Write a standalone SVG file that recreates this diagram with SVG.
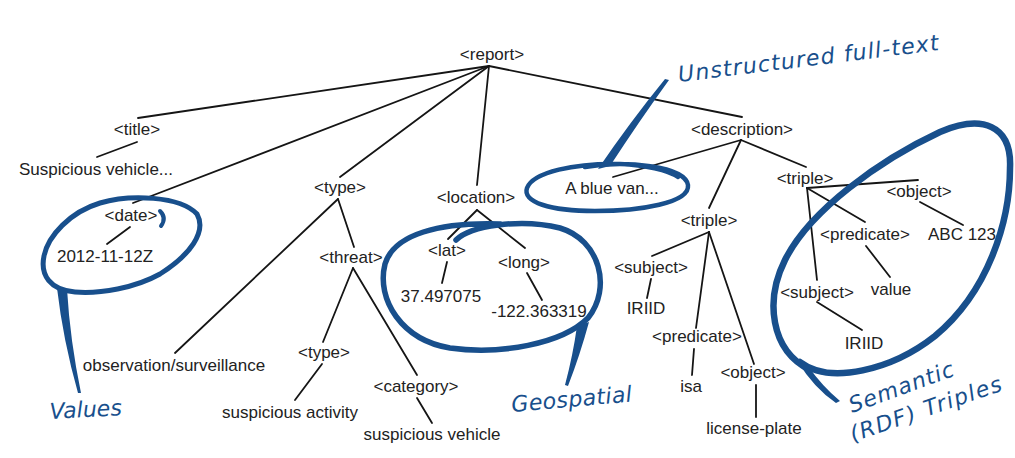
<svg xmlns="http://www.w3.org/2000/svg" width="1015" height="458" viewBox="0 0 1015 458">
<style>
.t{font-family:"Liberation Sans",Arial,sans-serif;font-size:17px;fill:#222;text-anchor:middle}
.c line{stroke:#151515;stroke-width:1.8;stroke-linecap:round}
.b{fill:none;stroke:#184f8c;stroke-linecap:round;stroke-linejoin:round}
.bf{fill:#184f8c}
.h{font-family:"DejaVu Sans",sans-serif;font-style:italic;fill:#184f8c;font-size:22px}
</style>
<rect width="1015" height="458" fill="#fff"/>
<g id="connectors" class="c">
<line x1="489" y1="66" x2="138" y2="118"/>
<line x1="489" y1="66" x2="133" y2="203"/>
<line x1="489" y1="66" x2="340" y2="177"/>
<line x1="489" y1="66" x2="477" y2="185"/>
<line x1="489" y1="66" x2="742" y2="117"/>
<line x1="137" y1="142" x2="97" y2="157"/>
<line x1="130" y1="227" x2="107" y2="244"/>
<line x1="338" y1="199" x2="175" y2="353"/>
<line x1="338" y1="199" x2="354" y2="247"/>
<line x1="353" y1="268" x2="323" y2="342"/>
<line x1="353" y1="268" x2="417" y2="375"/>
<line x1="322" y1="364" x2="295" y2="400"/>
<line x1="417" y1="398" x2="432" y2="423"/>
<line x1="477" y1="210" x2="448" y2="239"/>
<line x1="477" y1="210" x2="525" y2="248"/>
<line x1="447" y1="262" x2="442" y2="283"/>
<line x1="527" y1="273" x2="542" y2="300"/>
<line x1="741" y1="140" x2="613" y2="177"/>
<line x1="741" y1="140" x2="709" y2="208"/>
<line x1="741" y1="140" x2="806" y2="167"/>
<line x1="709" y1="232" x2="652" y2="256"/>
<line x1="709" y1="232" x2="696" y2="328"/>
<line x1="709" y1="232" x2="754" y2="364"/>
<line x1="651" y1="279" x2="647" y2="298"/>
<line x1="694" y1="349" x2="692" y2="375"/>
<line x1="756" y1="385" x2="756" y2="417"/>
<line x1="807" y1="188" x2="918" y2="180"/>
<line x1="807" y1="188" x2="865" y2="222"/>
<line x1="807" y1="188" x2="817" y2="280"/>
<line x1="920" y1="202" x2="963" y2="225"/>
<line x1="866" y1="246" x2="890" y2="277"/>
<line x1="817" y1="302" x2="862" y2="330"/>
</g>
<g id="nodes">
<g id="n-report"><text class="t" x="492" y="60">&lt;report&gt;</text></g>
<g id="n-title"><text class="t" x="137" y="135">&lt;title&gt;</text></g>
<g id="n-title-val"><text class="t" x="96" y="175">Suspicious vehicle...</text></g>
<g id="n-date"><text class="t" x="131" y="221">&lt;date&gt;</text></g>
<g id="n-date-val"><text class="t" x="105" y="262">2012-11-12Z</text></g>
<g id="n-obs"><text class="t" x="174" y="371">observation/surveillance</text></g>
<g id="n-type1"><text class="t" x="340" y="193">&lt;type&gt;</text></g>
<g id="n-threat"><text class="t" x="351" y="263">&lt;threat&gt;</text></g>
<g id="n-type2"><text class="t" x="324" y="358">&lt;type&gt;</text></g>
<g id="n-susp-act"><text class="t" x="290" y="418">suspicious activity</text></g>
<g id="n-category"><text class="t" x="416" y="392">&lt;category&gt;</text></g>
<g id="n-susp-veh"><text class="t" x="432" y="440">suspicious vehicle</text></g>
<g id="n-location"><text class="t" x="476" y="203">&lt;location&gt;</text></g>
<g id="n-lat"><text class="t" x="447" y="256">&lt;lat&gt;</text></g>
<g id="n-long"><text class="t" x="524" y="268">&lt;long&gt;</text></g>
<g id="n-lat-val"><text class="t" x="441" y="302">37.497075</text></g>
<g id="n-long-val"><text class="t" x="539" y="317">-122.363319</text></g>
<g id="n-bluevan"><text class="t" x="612" y="194">A blue van...</text></g>
<g id="n-description"><text class="t" x="742" y="135">&lt;description&gt;</text></g>
<g id="n-triple-l"><text class="t" x="709" y="226">&lt;triple&gt;</text></g>
<g id="n-subject-l"><text class="t" x="651" y="273">&lt;subject&gt;</text></g>
<g id="n-iriid-l"><text class="t" x="646" y="314">IRIID</text></g>
<g id="n-predicate-l"><text class="t" x="697" y="342">&lt;predicate&gt;</text></g>
<g id="n-isa"><text class="t" x="691" y="392">isa</text></g>
<g id="n-object-l"><text class="t" x="753" y="378">&lt;object&gt;</text></g>
<g id="n-license"><text class="t" x="754" y="434">license-plate</text></g>
<g id="n-triple-r"><text class="t" x="805" y="184">&lt;triple&gt;</text></g>
<g id="n-object-r"><text class="t" x="919" y="197">&lt;object&gt;</text></g>
<g id="n-predicate-r"><text class="t" x="865" y="240">&lt;predicate&gt;</text></g>
<g id="n-abc"><text class="t" x="962" y="240">ABC 123</text></g>
<g id="n-value"><text class="t" x="891" y="295">value</text></g>
<g id="n-subject-r"><text class="t" x="817" y="298">&lt;subject&gt;</text></g>
<g id="n-iriid-r"><text class="t" x="864" y="349">IRIID</text></g>
</g>
<g id="annotations">
<g id="a-values">
<path class="b" stroke-width="4" d="M 160 211 Q 167 218 161 226"/>
<path class="b" stroke-width="5" d="M 100 203 C 130 194, 180 196, 197 214 C 207 232, 190 255, 160 274 C 135 288, 100 294, 75 292 C 50 290, 40 275, 44 256 C 48 236, 70 212, 100 203"/>
<path class="bf" d="M 57 288 L 67 289 Q 70 340 81 393 L 78 393 Q 63 340 57 288 Z"/>
<text class="h" x="50" y="419" transform="rotate(-3 50 419)">Values</text>
</g>
<g id="a-fulltext">
<path class="b" stroke-width="4.5" d="M 585 167 C 625 160, 685 166, 688 185 C 690 203, 640 211, 595 211 C 550 211, 522 202, 527 188 C 533 172, 575 163, 620 164 C 645 165, 668 170, 678 177"/>
<path class="bf" d="M 598 169 L 610 166 Q 640 120 669 80 L 665 79 Q 630 122 598 169 Z"/>
<text class="h" x="679" y="82" font-size="25" letter-spacing="1.2" transform="rotate(-7 679 82)">Unstructured full-text</text>
</g>
<g id="a-geo">
<path class="b" stroke-width="5.5" d="M 456 240 C 470 226, 520 218, 560 228 C 600 240, 612 288, 588 318 C 562 344, 500 355, 450 348 C 402 340, 376 300, 385 264 C 394 234, 440 222, 500 224"/>
<path class="bf" d="M 577 326 L 589 322 Q 580 355 568 386 L 565 385 Q 573 355 577 326 Z"/>
<text class="h" x="512" y="412" letter-spacing="0.4" transform="rotate(-5 512 412)">Geospatial</text>
</g>
<g id="a-rdf">
<path class="b" stroke-width="6.5" d="M 810 370 C 770 350, 765 300, 785 260 C 810 210, 880 160, 940 132 C 982 114, 1012 125, 1010 168 C 1010 222, 988 292, 935 336 C 892 370, 830 385, 800 362"/>
<path class="bf" d="M 798 362 L 808 366 Q 822 386 840 401 L 836 403 Q 814 388 798 362 Z"/>
<text class="h" x="852" y="413" font-size="23" letter-spacing="1" transform="rotate(-20 852 413)">Semantic</text>
<text class="h" x="853" y="442" font-size="24" letter-spacing="1.5" transform="rotate(-19 853 442)">(RDF) Triples</text>
</g>
</g>
</svg>
